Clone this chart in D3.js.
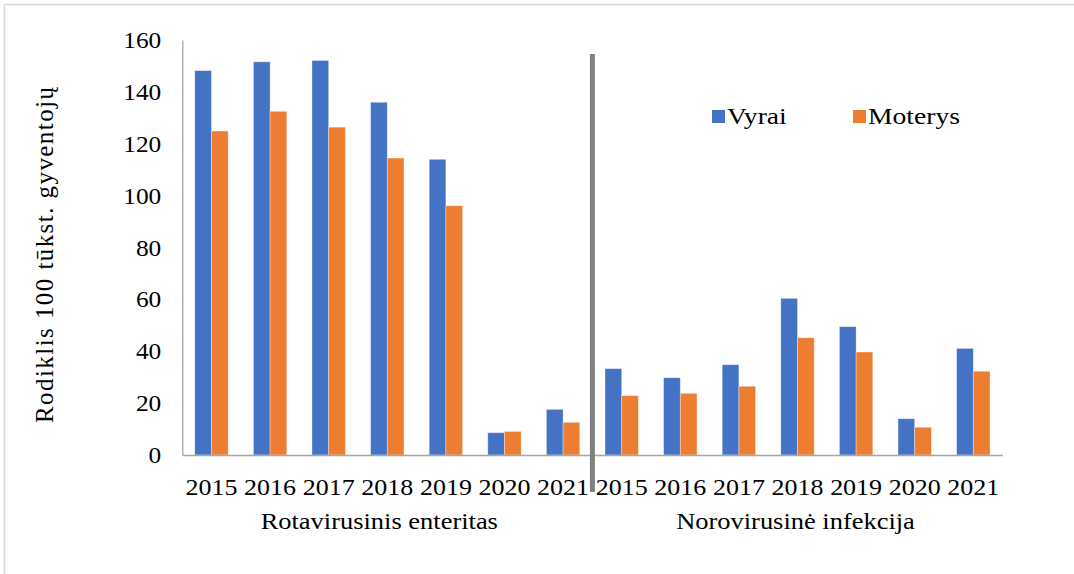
<!DOCTYPE html>
<html>
<head>
<meta charset="utf-8">
<script src="https://cdn.jsdelivr.net/npm/d3@7"></script>
<style>
  body { margin: 0; background: #fff; }
</style>
</head>
<body>
<div id="chart"></div>
<script>
// chart values
var years = ["2015", "2016", "2017", "2018", "2019", "2020", "2021"];
var groups = ["Rotavirusinis enteritas", "Norovirusinė infekcija"];
var seriesNames = ["Vyrai", "Moterys"];
var rotaMen = [148.2, 151.6, 152.1, 136.0, 114.0, 8.6, 17.6];
var rotaWomen = [124.9, 132.5, 126.4, 114.5, 96.1, 9.1, 12.6];
var noroMen = [33.3, 29.8, 34.8, 60.4, 49.5, 14.0, 41.1];
var noroWomen = [22.9, 23.8, 26.5, 45.2, 39.7, 10.7, 32.3];
var yTicks = [0, 20, 40, 60, 80, 100, 120, 140, 160];
var yTitle = "Rodiklis 100 tūkst. gyventojų";

var FONT = "Liberation Serif";

// the source text is drawn slightly wider than normal, widen glyphs a bit
function stretch(sel, f) {
    sel.each(function() {
        var len = this.getComputedTextLength();
        d3.select(this).attr("textLength", len * f).attr("lengthAdjust", "spacingAndGlyphs");
    });
}

function init() {
    var w = 1074;
    var h = 574;
    var left = 182.3, right = 1002.5, top = 40, bottom = 455;
    var colors = ["#4472C4", "#ED7D31"];

    // build rows: one per group/year
    var rows = [];
    years.forEach((y, i) => rows.push({ key: "r" + y, year: y, group: 0, vals: [rotaMen[i], rotaWomen[i]] }));
    years.forEach((y, i) => rows.push({ key: "n" + y, year: y, group: 1, vals: [noroMen[i], noroWomen[i]] }));

    var svg = d3.select("#chart").append("svg")
        .attr("width", w)
        .attr("height", h)
        .attr("font-family", FONT);

    // outer frame (top and left edges visible)
    svg.append("line").attr("x1", 4.5).attr("x2", w).attr("y1", 4.5).attr("y2", 4.5)
        .attr("stroke", "#d9d9d9").attr("stroke-width", 1.5);
    svg.append("line").attr("x1", 4.5).attr("x2", 4.5).attr("y1", 4.5).attr("y2", h)
        .attr("stroke", "#d9d9d9").attr("stroke-width", 1.5);

    var x0 = d3.scaleBand()
        .domain(rows.map(d => d.key))
        .range([left, right])
        .paddingInner(0.43)
        .paddingOuter(0.213);
    var x1 = d3.scaleBand()
        .domain([0, 1])
        .range([0, x0.bandwidth()]);
    var yScale = d3.scaleLinear()
        .domain([0, 160])
        .range([bottom, top]);

    // y axis
    var yAxis = svg.append("g")
        .attr("transform", `translate(${left},0)`)
        .call(d3.axisLeft(yScale).tickValues(yTicks).tickSize(0).tickPadding(21));
    yAxis.attr("font-family", FONT).attr("font-size", 23.5);
    yAxis.select(".domain").attr("stroke", "#a6a6a6").attr("stroke-width", 1.3);
    yAxis.selectAll("text").attr("fill", "#000").call(stretch, 1.08);

    // bars
    var g = svg.selectAll(".cat")
        .data(rows)
        .enter().append("g")
        .attr("class", "cat")
        .attr("transform", d => `translate(${x0(d.key)},0)`);
    g.selectAll("rect")
        .data(d => d.vals.map((v, i) => ({ v: v, s: i })))
        .enter().append("rect")
        .attr("x", d => x1(d.s))
        .attr("width", x1.bandwidth())
        .attr("y", d => yScale(d.v))
        .attr("height", d => bottom - yScale(d.v))
        .attr("fill", d => colors[d.s])
        .attr("stroke", "#ffffff")
        .attr("stroke-opacity", 0.45)
        .attr("stroke-width", 0.8);

    // x axis
    var xAxis = svg.append("g")
        .attr("transform", `translate(0,${bottom})`)
        .call(d3.axisBottom(x0).tickSize(0).tickPadding(24).tickFormat(k => k.slice(1)));
    xAxis.attr("font-family", FONT).attr("font-size", 23);
    xAxis.select(".domain").attr("stroke", "#a6a6a6").attr("stroke-width", 1.3);
    xAxis.selectAll("text").attr("fill", "#000").call(stretch, 1.13);

    // group labels
    groups.forEach((name, gi) => {
        var keys = rows.filter(d => d.group === gi).map(d => d.key);
        var cx = (x0(keys[0]) + x0(keys[keys.length - 1]) + x0.bandwidth()) / 2;
        svg.append("text")
            .attr("x", cx - 8 + gi * 6)
            .attr("y", 529)
            .attr("text-anchor", "middle")
            .attr("font-size", 23)
            .text(name)
            .call(stretch, 1.15);
    });

    // divider between groups
    var lastRota = rows[years.length - 1].key, firstNoro = rows[years.length].key;
    var divX = (x0(lastRota) + x0.bandwidth() + x0(firstNoro)) / 2;
    svg.append("line")
        .attr("x1", divX).attr("x2", divX)
        .attr("y1", 54).attr("y2", 492)
        .attr("stroke", "#808080")
        .attr("stroke-width", 5);

    // y title
    svg.append("text")
        .attr("transform", "translate(53,255) rotate(-90)")
        .attr("text-anchor", "middle")
        .attr("textLength", 336)
        .attr("lengthAdjust", "spacing")
        .attr("font-size", 25)
        .text(yTitle);

    // legend
    var legX = [712, 853];
    seriesNames.forEach((name, i) => {
        svg.append("rect")
            .attr("x", legX[i]).attr("y", 110)
            .attr("width", 13).attr("height", 13)
            .attr("fill", colors[i]);
        svg.append("text")
            .attr("x", legX[i] + 15)
            .attr("y", 124)
            .attr("font-size", 24)
            .text(name)
            .call(stretch, 1.15);
    });
}

window.onload = init;
</script>
</body>
</html>
